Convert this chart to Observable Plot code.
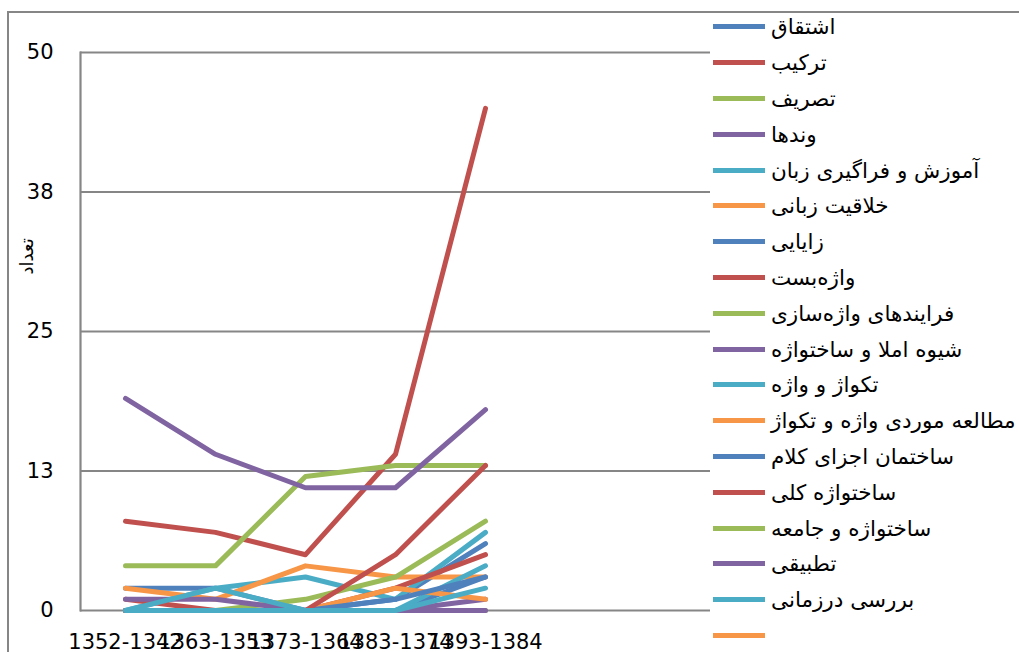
<!DOCTYPE html>
<html>
<head>
<meta charset="utf-8">
<script src="https://cdn.jsdelivr.net/npm/d3@7"></script>
<script src="https://cdn.jsdelivr.net/npm/@observablehq/plot@0.6"></script>
<style>
  html, body { margin: 0; padding: 0; background: #fff; }
  #wrap { position: relative; width: 1019px; height: 652px; overflow: hidden; font-family: "DejaVu Sans", sans-serif; }
  #outer { position: absolute; left: 7px; top: 11px; width: 1030px; height: 660px; border-left: 2px solid #868686; border-top: 2px solid #868686; box-sizing: border-box; pointer-events: none; }
  #chart { position: absolute; left: 0; top: 0; }
  #legend { position: absolute; left: 713px; top: 9px; }
  .item { display: flex; align-items: center; height: 35.8px; }
  .sw { width: 52px; height: 5px; margin-right: 6px; }
  .lab { font-size: 21.5px; color: #000; white-space: nowrap; direction: rtl; unicode-bidi: isolate; }
</style>
</head>
<body>
<div id="wrap">
  <div id="outer"></div>
  <div id="chart"></div>
  <div id="legend"></div>
</div>
<script>
const categories = ["1352-1342", "1363-1353", "1373-1364", "1383-1374", "1393-1384"];
const yTicks = [0, 12.5, 25, 37.5, 50];
const yTitle = "تعداد";

const seriesNames = [
  "اشتقاق",
  "ترکیب",
  "تصریف",
  "وندها",
  "آموزش و فراگیری زبان",
  "خلاقیت زبانی",
  "زایایی",
  "واژه‌بست",
  "فرایندهای واژه‌سازی",
  "شیوه املا و ساختواژه",
  "تکواژ و واژه",
  "مطالعه موردی واژه و تکواژ",
  "ساختمان اجزای کلام",
  "ساختواژه کلی",
  "ساختواژه و جامعه",
  "تطبیقی",
  "بررسی درزمانی",
  ""
];
const seriesColors = [
  "#4F81BD", "#C0504D", "#9BBB59", "#8064A2", "#4BACC6", "#F79646",
  "#4F81BD", "#C0504D", "#9BBB59", "#8064A2", "#4BACC6", "#F79646",
  "#4F81BD", "#C0504D", "#9BBB59", "#8064A2", "#4BACC6", "#F79646"
];

const s01 = [2, 2, 0, 1, 6];
const s02 = [8, 7, 5, 14, 45];
const s03 = [4, 4, 12, 13, 13];
const s04 = [19, 14, 11, 11, 18];
const s05 = [0, 2, 3, 1, 7];
const s06 = [2, 1, 4, 3, 3];
const s07 = [0, 0, 0, 0, 3];
const s08 = [1, 0, 0, 2, 5];
const s09 = [0, 0, 1, 3, 8];
const s10 = [1, 1, 0, 0, 1];
const s11 = [0, 2, 0, 0, 4];
const s12 = [0, 0, 0, 2, 1];
const s13 = [0, 0, 0, 1, 3];
const s14 = [0, 0, 0, 5, 13];
const s15 = [0, 0, 0, 0, 0];
const s16 = [0, 0, 0, 0, 0];
const s17 = [0, 0, 0, 0, 2];
const s18 = [];
const seriesValues = [s01,s02,s03,s04,s05,s06,s07,s08,s09,s10,s11,s12,s13,s14,s15,s16,s17,s18];

const rows = [];
seriesValues.forEach((vals, i) => {
  vals.forEach((v, j) => rows.push({name: "s" + i, cat: categories[j], value: v}));
});

const chart = Plot.plot({
  width: 1019,
  height: 652,
  marginLeft: 80,
  marginRight: 309,
  marginTop: 52,
  marginBottom: 42,
  style: {fontFamily: "DejaVu Sans, sans-serif", fontSize: "21px", color: "#000", background: "transparent", overflow: "visible"},
  x: {type: "point", domain: categories, range: [125, 485], padding: 0, label: null},
  y: {domain: [0, 50], label: null},
  color: {domain: seriesNames.map((d, i) => "s" + i), range: seriesColors},
  marks: [
    Plot.ruleY(yTicks, {stroke: "#868686", strokeWidth: 2.2, strokeOpacity: 1}),
    Plot.frame({anchor: "left", stroke: "#868686", strokeWidth: 2.2}),
    Plot.axisY(yTicks, {tickSize: 0, tickPadding: 27, tickFormat: d => String(Math.round(d)), fontSize: 21, label: null}),
    Plot.axisX({tickSize: 0, tickPadding: 24, fontSize: 21, label: null}),
    Plot.text([yTitle], {frameAnchor: "left", rotate: -90, dx: -53, dy: -57, fontSize: 18, fill: "#000"}),
    Plot.line(rows, {x: "cat", y: "value", z: "name", stroke: "name", strokeWidth: 5, strokeLinejoin: "round", strokeLinecap: "round"})
  ]
});
document.getElementById("chart").appendChild(chart);

const legend = document.getElementById("legend");
seriesNames.forEach((name, i) => {
  const item = document.createElement("div");
  item.className = "item";
  const sw = document.createElement("div");
  sw.className = "sw";
  sw.style.background = seriesColors[i];
  const lab = document.createElement("span");
  lab.className = "lab";
  lab.textContent = name;
  item.appendChild(sw);
  item.appendChild(lab);
  legend.appendChild(item);
});
</script>
</body>
</html>
